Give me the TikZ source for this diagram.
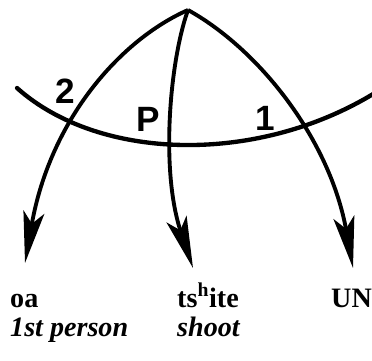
\documentclass[tikz,border=0pt]{standalone}
\usepackage{fontspec}
\setmainfont{Liberation Serif}
\newfontfamily\markfont{Liberation Sans}
\usetikzlibrary{arrows.meta}

\begin{document}
\begin{tikzpicture}[
    x=0.03cm, y=-0.03cm,
    curve/.style={line width=3.3pt, -{Stealth[length=44pt,width=18pt,inset=10pt]}},
    band/.style={line width=3.7pt, line cap=round},
    bandlabel/.style={font=\markfont\fontsize{30}{30}\selectfont\bfseries},
    gloss/.style={anchor=base west, inner sep=0pt, font=\fontsize{24}{24}\selectfont\bfseries}
]
\useasboundingbox (0,0) rectangle (372,360);

% apex and arrow tips
\coordinate (top) at (188,10);
\coordinate (tipA) at (25,263);
\coordinate (tipB) at (193,268);
\coordinate (tipC) at (353,268);

% the band across the curves
\coordinate (bandL) at (17,88);
\coordinate (bandR) at (378,91);
\draw[band] (bandL) .. controls (100,162) and (260,165) .. (bandR);

% curves from the apex
\draw[curve] (top) .. controls (120,40) and (50,120) .. (tipA);
\draw[curve] (top) .. controls (170,60) and (160,170) .. (tipB);
\draw[curve] (top) .. controls (260,50) and (330,140) .. (tipC);

% labels on the band
\node[bandlabel] (two) at (65,91) {2};
\node[bandlabel] (pee) at (148,119) {P};
\node[bandlabel] (one) at (265,118) {1};

% forms and glosses
\node[gloss] (oa) at (10,307) {oa};
\node[gloss] (person) at (10,336) {\itshape 1st person};
\node[gloss] (tshite) at (177,307) {ts\textsuperscript{h}ite};
\node[gloss] (shoot) at (177,336) {\itshape shoot};
\node[gloss] (un) at (331,307) {UN};

\end{tikzpicture}
\end{document}
